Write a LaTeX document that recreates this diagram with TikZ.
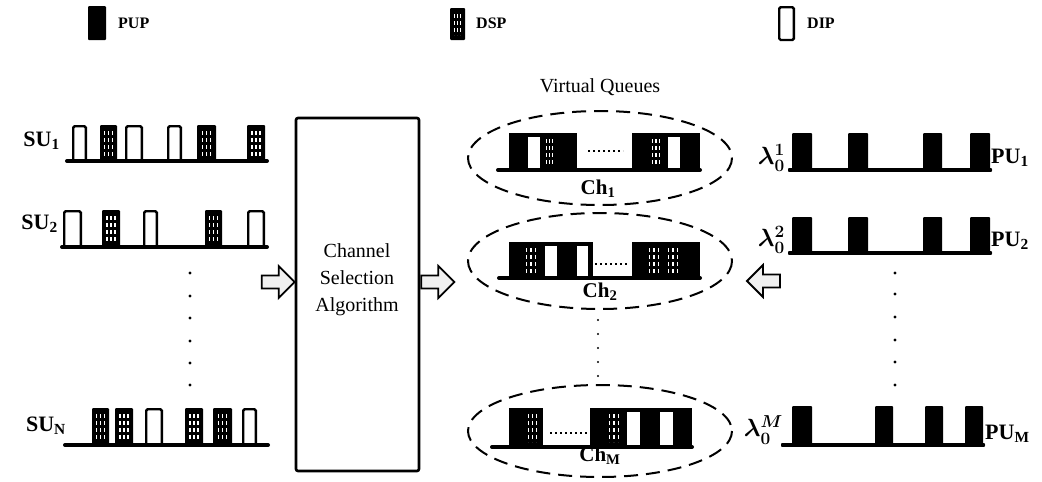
\documentclass[tikz,border=0pt]{standalone}
\usepackage{fontspec}
\setmainfont{Liberation Serif}
\usetikzlibrary{calc}

% packet glyphs: x1, top, x2, bottom
\newcommand{\PUPbox}[4]{\fill[rounded corners=1pt] (#1,#2) rectangle (#3,#4);}
\newcommand{\DIPbox}[4]{\draw[dipline] ({#1+1.2},{#2+1.2}) rectangle ({#3-1.2},#4);}
\newcommand{\Hatch}[4]{%
  \foreach \f in {0.28,0.5,0.72}
    \draw[hatchline] ({#1+\f*(#3-#1)},{#2+6}) -- ({#1+\f*(#3-#1)},{#4-5});}
\newcommand{\DSPbox}[4]{\PUPbox{#1}{#2}{#3}{#4}\Hatch{#1}{#2}{#3}{#4}}
\newcommand{\Slot}[4]{\fill[white] (#1,{#2+4}) rectangle (#3,{#4-2});}
% hollow block arrow whose tip sits at the given coordinate
\newcommand{\BlockArrow}[2]{%
  \begin{scope}[shift={(#1)}, xscale=#2]
    \filldraw[blockarrow] (-33,-6.5) -- (-16,-6.5) -- (-16,-16) -- (0,0)
      -- (-16,16) -- (-16,6.5) -- (-33,6.5) -- cycle;
  \end{scope}}

\begin{document}
\begin{tikzpicture}[x=1pt,y=-1pt,
  base/.style={line width=4pt, line cap=round},
  dipline/.style={line width=2.4pt, fill=white, rounded corners=1.5pt},
  hatchline/.style={white, line width=1.1pt, dash pattern=on 4pt off 3pt},
  lbl/.style={font=\fontsize{22}{26}\selectfont\bfseries\boldmath, inner sep=0pt},
  lam/.style={font=\fontsize{24}{28}\selectfont\bfseries\boldmath, inner sep=0pt},
  leg/.style={font=\fontsize{16}{19}\selectfont\bfseries, inner sep=0pt, anchor=west},
  txt/.style={font=\fontsize{20}{27}\selectfont, inner sep=0pt, align=center},
  dotm/.style={fill=black, circle, inner sep=0pt, minimum size=3.2pt},
  queue/.style={dashed, line width=2pt, dash pattern=on 14pt off 8pt},
  blockarrow/.style={draw=black, line width=1.8pt, fill=gray!12, line join=miter},
  chlbl/.style={font=\fontsize{21}{24}\selectfont\bfseries, inner sep=0pt}]
\useasboundingbox (0,0) rectangle (1042,482);

% legend
\PUPbox{88}{6}{106}{40}
\node[leg] (lpup) at (118,23) {PUP};
\DSPbox{450}{8}{465}{40}
\node[leg] (ldsp) at (476,23) {DSP};
\DIPbox{778}{6}{795}{40}
\node[leg] (ldip) at (807,23) {DIP};

% secondary users
\node[lbl, anchor=base east] (su1) at (60,146) {SU\textsubscript{1}};
\DIPbox{72}{125}{87}{161}
\DSPbox{100}{125}{117}{161}
\DIPbox{125}{125}{143}{161}
\DIPbox{167}{125}{182}{161}
\DSPbox{197}{125}{216}{161}
\DSPbox{247}{125}{265}{161}
\draw[base] (67,161) -- (267,161);

\node[lbl, anchor=base east] (su2) at (58,229) {SU\textsubscript{2}};
\DIPbox{63}{210}{82}{247}
\DSPbox{102}{210}{120}{247}
\DIPbox{143}{210}{158}{247}
\DSPbox{205}{210}{222}{247}
\DIPbox{247}{210}{265}{247}
\draw[base] (62,247) -- (267,247);

\foreach \y in {273,296,318,341,363,385} \node[dotm] at (190,\y) {};

\node[lbl, anchor=base east] (sun) at (66,431) {SU\textsubscript{N}};
\DSPbox{92}{408}{109}{445}
\DSPbox{115}{408}{133}{445}
\DIPbox{145}{408}{163}{445}
\DSPbox{185}{408}{203}{445}
\DSPbox{213}{408}{232}{445}
\DIPbox{242}{408}{257}{445}
\draw[base] (65,445) -- (268,445);

% channel selection
\node[draw, line width=2.6pt, rounded corners=2pt, minimum width=123pt,
  minimum height=353pt, inner sep=0pt] (csa) at (357.5,294.5) {};
\node[txt] (csat) at (357,280) {Channel\\Selection\\Algorithm};

\BlockArrow{$(csa.west)+(0,-12.5)$}{1}
\BlockArrow{$(csa.east)+(34,-12.5)$}{1}
\coordinate (qin) at (747,281);
\BlockArrow{qin}{-1}

% virtual queues
\node[txt] (vq) at (600,87) {Virtual Queues};
\draw[queue] (600,158) ellipse [x radius=132, y radius=47];
\draw[queue] (600,261) ellipse [x radius=132, y radius=48];
\draw[queue] (600,431) ellipse [x radius=132, y radius=46];

% queue of channel 1
\fill (509,133) rectangle (577,170);
\Slot{528}{133}{540}{170}
\Hatch{542}{133}{557}{170}
\fill (632,133) rectangle (700,170);
\Hatch{648}{133}{664}{170}
\Slot{668}{133}{680}{170}
\draw[base] (498,170) -- (700,170);
\draw[line width=2pt, dash pattern=on 2pt off 3pt] (588,151) -- (623,151);
\node[chlbl] (ch1) at (598,189) {Ch\textsubscript{1}};

% queue of channel 2
\fill (509,242) rectangle (593,278);
\Hatch{521}{242}{541}{278}
\Slot{545}{242}{557}{278}
\Slot{577}{242}{588}{278}
\fill (632,242) rectangle (700,278);
\Hatch{644}{242}{664}{278}
\Hatch{662}{242}{684}{278}
\draw[base] (499,278) -- (700,278);
\draw[line width=2pt, dash pattern=on 2pt off 3pt] (595,264) -- (627,264);
\node[chlbl] (ch2) at (600,292) {Ch\textsubscript{2}};

\foreach \y in {320,334,348,362,376} \node[dotm, minimum size=2.4pt] at (598,\y) {};

% queue of channel M
\fill (509,408) rectangle (543,447);
\Hatch{524}{408}{541}{447}
\fill (590,408) rectangle (692,447);
\Hatch{604}{408}{624}{447}
\Slot{627}{408}{640}{447}
\Slot{660}{408}{673}{447}
\draw[base] (492,447) -- (692,447);
\draw[line width=2pt, dash pattern=on 2pt off 3pt] (550,433) -- (587,433);
\node[chlbl] (chm) at (600,456) {Ch\textsubscript{M}};

% primary users
\node[lam, anchor=east] (l1) at (785,158) {$\lambda_0^1$};
\foreach \a/\b in {792/812,848/868,923/942,970/990} \PUPbox{\a}{133}{\b}{170}
\draw[base] (790,170) -- (990,170);
\node[lbl, anchor=base west] (pu1) at (991,163) {PU\textsubscript{1}};

\node[lam, anchor=east] (l2) at (785,240) {$\lambda_0^2$};
\foreach \a/\b in {792/812,848/868,923/942,970/990} \PUPbox{\a}{217}{\b}{253}
\draw[base] (790,253) -- (990,253);
\node[lbl, anchor=base west] (pu2) at (991,246) {PU\textsubscript{2}};

\foreach \y in {273,294,317,340,362,385} \node[dotm] at (895,\y) {};

\node[lam, anchor=east] (lm) at (783,430) {$\lambda_0^M$};
\foreach \a/\b in {792/812,875/893,925/943,965/983} \PUPbox{\a}{406}{\b}{445}
\draw[base] (783,445) -- (983,445);
\node[lbl, anchor=base west] (pum) at (985,439) {PU\textsubscript{M}};
\end{tikzpicture}
\end{document}
